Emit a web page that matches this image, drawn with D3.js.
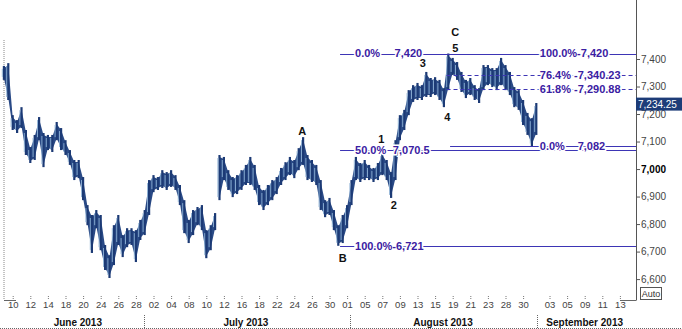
<!DOCTYPE html>
<html>
<head>
<meta charset="utf-8">
<script src="https://cdn.jsdelivr.net/npm/d3@7"></script>
<style>
  body { margin: 0; background: #fff; }
  svg { display: block; font-family: Arial, "Liberation Sans", sans-serif; }
</style>
</head>
<body>
<svg id="chart" width="682" height="329"></svg>
<script>
// half-day bars, first one on Fri 7 June (day -1), day 0 = 10 June
const highs = [7375,7385,7196,7178,7225,7142,7080,7124,7189,7131,7124,7124,7171,7149,7105,7069,7033,7033,6971,6869,
  6833,6851,6833,6724,6687,6796,6833,6760,6785,6785,6778,6815,6851,6960,6978,6971,6996,6989,6996,6978,
  6942,6887,6815,6851,6862,6869,6778,6796,6840,7051,7044,6996,6971,6978,6996,7015,7044,7015,6942,6924,
  6942,6960,6971,7004,7025,7044,7033,7076,7116,7051,7033,7015,6960,6887,6895,6851,6796,6833,6869,6960,
  7044,7022,7033,7015,7004,7022,7058,7033,6989,7105,7196,7215,7287,7305,7313,7305,7353,7331,7334,7324,
  7294,7420,7404,7389,7353,7324,7331,7305,7294,7378,7378,7367,7367,7404,7378,7353,7298,7287,7251,7204,
  7185,7240]
const lows = [7324,7251,7142,7131,7149,7051,7022,7033,7105,7007,7069,7062,7105,7069,7051,7015,6960,6967,6887,6796,
  6695,6785,6705,6633,6604,6651,6724,6680,6716,6724,6662,6742,6760,6833,6916,6924,6931,6924,6935,6924,
  6869,6767,6731,6760,6796,6778,6676,6705,6778,6887,6960,6924,6898,6909,6924,6942,6942,6924,6869,6851,
  6869,6887,6909,6942,6960,6978,6967,6996,7015,6960,6953,6942,6851,6825,6833,6778,6721,6731,6785,6869,
  6960,6953,6960,6960,6953,6960,6978,6960,6895,6960,7105,7142,7196,7244,7251,7251,7262,7262,7269,7251,
  7225,7287,7342,7324,7280,7258,7269,7251,7240,7287,7305,7298,7287,7305,7287,7269,7225,7215,7160,7124,
  7082,7124]
const lastPrice = 7234.25
const gapAfter = 48   // price gap on 11 July

const tickDays = [0,2,4,6,8,10,12,14, 16,18,20,22,24,26,28,30,32,34,36, 38,40,42,44,46,48,50,52,54,56,58, 61,63,65,67,69]
const tickLabels = ["10","12","14","18","20","24","26","28", "02","04","08","10","12","16","18","22","24","26","30",
  "01","05","07","09","13","15","19","21","23","28","30", "03","05","09","11","13"]
const months = ["June 2013","July 2013","August 2013","September 2013"]
const monthMid = [7.4, 26.5, 48.9, 65]
const monthBreaks = [14.9, 38.3, 59.6]

const priceTicks = [6600,6700,6800,6900,7000,7100,7200,7300,7400]

// fibonacci levels: value, first day, dashed
const fibValues = [7420, 7340.23, 7290.88, 7082, 7070.5, 6721]
const fibFrom = [37.2, 49.3, 49.3, 49.7, 37.2, 37.2]
const fibDashed = [false, true, true, false, false, false]
const fibTexts = ["0.0%","7,420","100.0%-7,420","76.4% -7,340.23","61.8% -7,290.88","0.0%","7,082","50.0%","7,070.5","100.0%-6,721"]
const fibTextDay = [38.9, 43.4, 59.9, 59.9, 59.9, 59.9, 64.2, 38.9, 43.2, 38.9]
const fibTextVal = [7420, 7420, 7420, 7340.23, 7290.88, 7082, 7082, 7070.5, 7070.5, 6721]

const waveNames = ["A","B","1","2","3","4","5","C"]
const waveDays = [32.9, 37.5, 41.9, 43.3, 46.6, 49.4, 50.3, 50.3]
const waveVals = [7138, 6676, 7109, 6869, 7385, 7189, 7440, 7498]

const svg = d3.select("#chart")
const x = d3.scaleLinear().domain([-1, 69]).range([3.9, 619.9])
const y = d3.scaleLinear().domain([6524, 7614.5]).range([300, 0])
const axisX = 636
const barDay = i => -1 + i * 0.5

// frame
svg.append("line").attr("x1", 4).attr("x2", 4).attr("y1", 40).attr("y2", 300)
  .attr("stroke", "#888").attr("stroke-dasharray", "1,1")
svg.append("line").attr("x1", 4).attr("x2", 16).attr("y1", 300.5).attr("y2", 300.5).attr("stroke", "#666")
svg.append("line").attr("x1", 620).attr("x2", axisX).attr("y1", 300.5).attr("y2", 300.5).attr("stroke", "#666")

// price band + bars
const idx = d3.range(highs.length)
const band = d3.area()
  .x(i => x(barDay(i)))
  .y0(i => y(lows[i]) - 2)
  .y1(i => y(highs[i]) + 2)
;[idx.filter(i => i <= gapAfter), idx.filter(i => i > gapAfter)].forEach(seg => {
  svg.append("path").datum(seg).attr("d", band).attr("fill", "#2a4a86")
})

const bars = svg.append("g")
idx.forEach(i => {
  const bx = x(barDay(i))
  bars.append("line").attr("x1", bx).attr("x2", bx)
    .attr("y1", y(highs[i])).attr("y2", y(lows[i]))
    .attr("stroke", "#1c3a75").attr("stroke-width", 2.2)
  bars.append("line").attr("x1", bx - 1.6).attr("x2", bx - 1.6)
    .attr("y1", y(highs[i]) + 3).attr("y2", y(lows[i]) - 3)
    .attr("stroke", "#8db1d5").attr("stroke-width", 0.9)
})

// fib lines
fibValues.forEach((v, i) => {
  svg.append("line").attr("x1", x(fibFrom[i])).attr("x2", axisX)
    .attr("y1", Math.round(y(v)) + 0.5).attr("y2", Math.round(y(v)) + 0.5)
    .attr("stroke", "#3d35b5").attr("stroke-width", 1.2)
    .attr("stroke-dasharray", fibDashed[i] ? "4,3" : null)
})
svg.append("g").selectAll("text").data(fibTexts).join("text")
  .attr("x", (d, i) => x(fibTextDay[i]))
  .attr("y", (d, i) => y(fibTextVal[i]))
  .attr("dy", "0.35em")
  .attr("font-size", 11).attr("font-weight", "bold")
  .attr("fill", "#3a20a2")
  .attr("stroke", "#fff").attr("stroke-width", 3).attr("paint-order", "stroke")
  .text(d => d)

// wave labels
svg.append("g").selectAll("text").data(waveNames).join("text")
  .attr("x", (d, i) => x(waveDays[i]))
  .attr("y", (d, i) => y(waveVals[i]))
  .attr("dy", "0.35em").attr("text-anchor", "middle")
  .attr("font-size", 11).attr("font-weight", "bold").attr("fill", "#111")
  .text(d => d)

// right price axis
const yAxis = svg.append("g").attr("transform", `translate(${axisX},0)`)
  .call(d3.axisRight(y).tickValues(priceTicks).tickSize(4).tickPadding(1)
    .tickFormat(d3.format(",")))
yAxis.select(".domain").attr("stroke", "#555").attr("d", "M0.5,0V300.5")
yAxis.selectAll(".tick line").attr("stroke", "#555")
yAxis.selectAll(".tick text").attr("font-size", 10)
  .attr("font-family", "Arial, 'Liberation Sans', sans-serif")
  .attr("font-weight", d => d === 7000 ? "bold" : null)
  .attr("fill", d => d === 7000 ? "#000" : "#444")

// last price marker
svg.append("rect").attr("x", axisX).attr("y", y(lastPrice) - 7).attr("width", 46).attr("height", 13)
  .attr("fill", "#1d3c78")
svg.append("text").attr("x", axisX + 2).attr("y", y(lastPrice)).attr("dy", "0.35em")
  .attr("font-size", 10).attr("fill", "#fff").text(d3.format(",.2f")(lastPrice))

// Auto box
svg.append("rect").attr("x", 640.5).attr("y", 287.5).attr("width", 21).attr("height", 12)
  .attr("fill", "none").attr("stroke", "#555")
svg.append("text").attr("x", 651).attr("y", 294).attr("dy", "0.35em").attr("text-anchor", "middle")
  .attr("font-size", 9).attr("fill", "#333").text("Auto")

// date axis
const xAxis = svg.append("g").attr("transform", "translate(0,296)")
  .call(d3.axisBottom(x).tickValues(tickDays).tickSize(3).tickPadding(2)
    .tickFormat((d, i) => tickLabels[i]))
xAxis.select(".domain").remove()
xAxis.selectAll(".tick line").attr("stroke", "#777").attr("stroke-dasharray", "1,1")
xAxis.selectAll(".tick text").attr("font-size", 9.5).attr("fill", "#444")
  .attr("font-family", "Arial, 'Liberation Sans', sans-serif")

svg.append("g").selectAll("text").data(months).join("text")
  .attr("x", (d, i) => x(monthMid[i])).attr("y", 326)
  .attr("text-anchor", "middle").attr("font-size", 10).attr("font-weight", "bold").attr("fill", "#111")
  .text(d => d)
svg.append("g").selectAll("line").data(monthBreaks).join("line")
  .attr("x1", d => Math.round(x(d)) + 0.5).attr("x2", d => Math.round(x(d)) + 0.5)
  .attr("y1", 315).attr("y2", 328).attr("stroke", "#666").attr("stroke-dasharray", "1,1")
svg.append("line").attr("x1", 0).attr("x2", 682).attr("y1", 328.5).attr("y2", 328.5)
  .attr("stroke", "#666").attr("stroke-dasharray", "1,1")
</script>
</body>
</html>
